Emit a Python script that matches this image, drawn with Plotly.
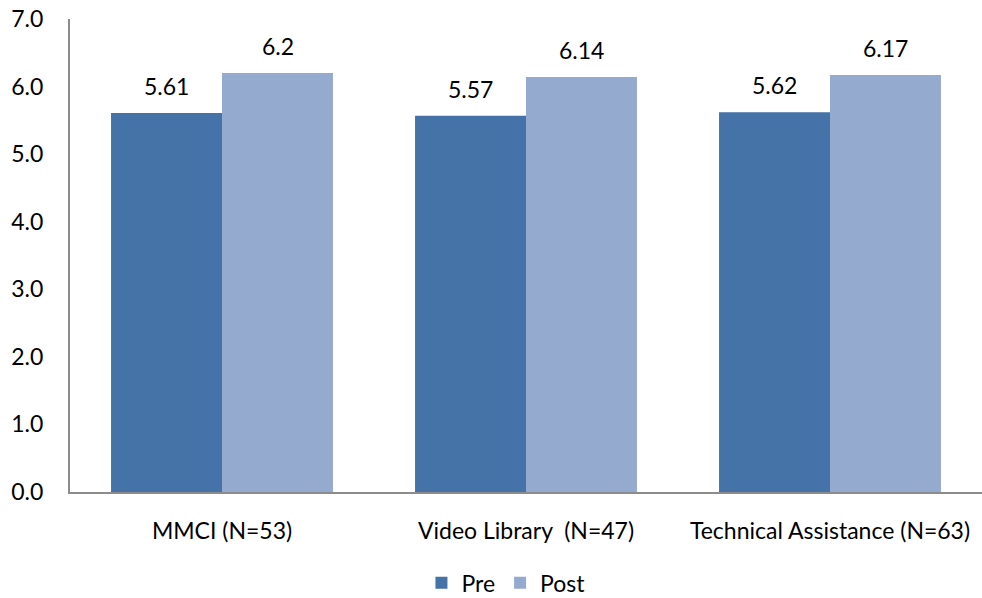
import plotly.graph_objects as go

categories = ["MMCI (N=53)", "Video Library  (N=47)", "Technical Assistance (N=63)"]
pre_values = [5.61, 5.57, 5.62]
post_values = [6.2, 6.14, 6.17]
pre_labels = ["5.61", "5.57", "5.62"]
post_labels = ["6.2", "6.14", "6.17"]
y_ticks = [0, 1, 2, 3, 4, 5, 6, 7]
y_tick_text = ["0.0", "1.0", "2.0", "3.0", "4.0", "5.0", "6.0", "7.0"]

FONT = "Lato, Calibri, 'Open Sans', sans-serif"
FS = 23
PRE_COLOR = "#4572A7"
POST_COLOR = "#94AACF"

fig = go.Figure()
fig.add_trace(go.Bar(
    name="Pre", x=categories, y=pre_values,
    marker=dict(color=PRE_COLOR, line=dict(width=0)),
))
fig.add_trace(go.Bar(
    name="Post", x=categories, y=post_values,
    marker=dict(color=POST_COLOR, line=dict(width=0)),
))

# value labels sit a little above each bar, centred on it
half_bar = 55.5
for cat, v, t in zip(categories, pre_values, pre_labels):
    fig.add_annotation(x=cat, y=v, text=t, showarrow=False, xshift=-half_bar,
                       yanchor="bottom", yshift=11, font=dict(size=FS, family=FONT, color="#000"))
for cat, v, t in zip(categories, post_values, post_labels):
    fig.add_annotation(x=cat, y=v, text=t, showarrow=False, xshift=half_bar,
                       yanchor="bottom", yshift=11, font=dict(size=FS, family=FONT, color="#000"))

fig.update_layout(
    width=982, height=598,
    margin=dict(l=70, r=0, t=19, b=106, autoexpand=False),
    plot_bgcolor="white", paper_bgcolor="white",
    barmode="group", bargap=0.27, bargroupgap=0,
    font=dict(family=FONT, size=FS, color="#000000"),
    showlegend=True,
    legend=dict(
        orientation="h", x=0.478, xanchor="center", y=-0.192, yanchor="middle",
        font=dict(size=FS, family=FONT), itemwidth=30, traceorder="normal",
    ),
    xaxis=dict(
        showline=True, linecolor="#8C8C8C", linewidth=2, automargin=False,
        ticks="", showgrid=False, ticklabelstandoff=17,
        tickfont=dict(size=FS, family=FONT),
    ),
    yaxis=dict(
        range=[0, 7], tickvals=y_ticks, ticktext=y_tick_text, automargin=False,
        showline=True, linecolor="#8C8C8C", linewidth=2,
        ticks="", showgrid=False, zeroline=False, ticklabelstandoff=20,
        tickfont=dict(size=FS, family=FONT),
    ),
)

fig.write_html("out.html")
